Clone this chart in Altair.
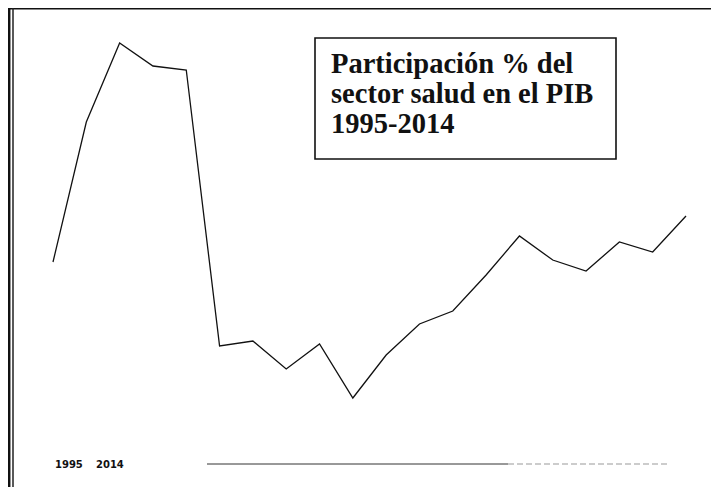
import altair as alt
import pandas as pd

# Data (participación %, estimated units)
years = list(range(1995, 2015))
values = [1.58, 2.98, 3.77, 3.54, 3.50, 0.74, 0.79, 0.51, 0.76, 0.22,
          0.65, 0.96, 1.09, 1.45, 1.84, 1.60, 1.49, 1.78, 1.68, 2.04]
title_lines = ["Participación % del", "sector salud en el PIB", "1995-2014"]
footer_labels = ["1995", "2014"]

df = pd.DataFrame({"year": years, "value": values})

W, H = 703, 479

xscale = alt.Scale(domain=[1995, 2014], range=[45, 678])
yscale = alt.Scale(domain=[0, 4], range=[412, 12])

line = alt.Chart(df).mark_line(color="#111111", strokeWidth=1.3).encode(
    x=alt.X("year:Q", scale=xscale, axis=None),
    y=alt.Y("value:Q", scale=yscale, axis=None),
)

one = pd.DataFrame({"a": [0]})

# frame lines (top and double left)
top_rule = alt.Chart(one).mark_rule(color="#111111", strokeWidth=2).encode(
    x=alt.value(0), x2=alt.value(W), y=alt.value(0.5))
left_rule1 = alt.Chart(one).mark_rule(color="#111111", strokeWidth=2.5).encode(
    x=alt.value(1.2), y=alt.value(0), y2=alt.value(H))
left_rule2 = alt.Chart(one).mark_rule(color="#222222", strokeWidth=1.5).encode(
    x=alt.value(5), y=alt.value(0), y2=alt.value(H))

# title box
box = alt.Chart(one).mark_rect(fill="white", stroke="#111111", strokeWidth=1.6).encode(
    x=alt.value(307), x2=alt.value(608), y=alt.value(30), y2=alt.value(151))

title_df = pd.DataFrame({"t": title_lines, "i": [0, 1, 2]})
title_text = alt.Chart(title_df).mark_text(
    font="Liberation Serif", fontWeight="bold", fontSize=28.5, align="left",
    baseline="alphabetic", color="#111111"
).encode(
    x=alt.value(323),
    y=alt.Y("i:Q", scale=alt.Scale(domain=[0, 2], range=[65, 125]), axis=None),
    text="t:N",
)

foot_df = pd.DataFrame({"t": footer_labels, "x": [47, 88]})
foot_text = alt.Chart(foot_df).mark_text(
    font="DejaVu Sans", fontWeight="bold", fontSize=10, align="left",
    baseline="alphabetic", color="#111111"
).encode(
    x=alt.X("x:Q", scale=alt.Scale(domain=[0, W], range=[0, W]), axis=None),
    y=alt.value(460),
    text="t:N",
)

foot_rule1 = alt.Chart(one).mark_rule(color="#333333", strokeWidth=1).encode(
    x=alt.value(199), x2=alt.value(500), y=alt.value(456))
foot_rule2 = alt.Chart(one).mark_rule(color="#999999", strokeWidth=1, strokeDash=[6, 3]).encode(
    x=alt.value(500), x2=alt.value(660), y=alt.value(456))

chart = alt.layer(
    top_rule, left_rule1, left_rule2, line, box, title_text,
    foot_text, foot_rule1, foot_rule2
).resolve_scale(x="independent", y="independent").properties(
    width=W, height=H, padding=0, autosize=alt.AutoSizeParams(type="none")
).configure_view(stroke=None).configure(background="white")

chart.save("out.html", embed_options={"renderer": "svg", "actions": False})
